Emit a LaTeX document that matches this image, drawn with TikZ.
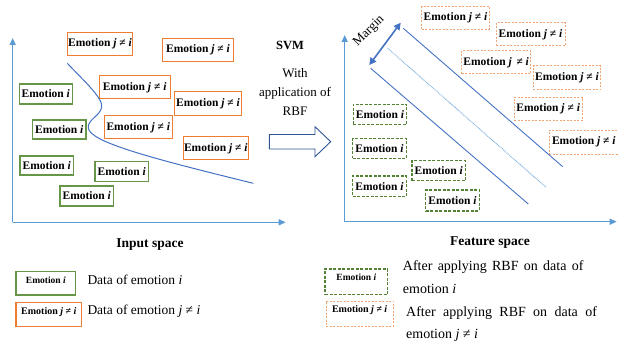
\documentclass[tikz,border=0pt]{standalone}
\usepackage{fontspec}
\setmainfont{Liberation Serif}
\usetikzlibrary{arrows.meta}
\definecolor{bxorange}{RGB}{237,125,49}
\definecolor{ltorange}{RGB}{243,165,115}
\definecolor{bxgreen}{RGB}{104,150,72}
\definecolor{dkgreen}{RGB}{84,130,53}
\definecolor{axblue}{RGB}{91,155,213}
\definecolor{lnblue}{RGB}{68,114,196}
\definecolor{dkblue}{RGB}{47,85,151}
\tikzset{
  bx/.style={draw, line width=1.1pt, inner sep=0pt, minimum height=23pt,
    font=\fontsize{11.5}{13}\selectfont\bfseries},
  obox/.style={bx, draw=bxorange},
  gbox/.style={bx, draw=bxgreen, minimum height=20pt, minimum width=53.4pt},
  odbox/.style={obox, draw=ltorange, line width=1pt, dash pattern=on 2pt off 1.5pt},
  gdbox/.style={gbox, draw=dkgreen, dash pattern=on 3pt off 1.5pt, line width=1.2pt},
  axis/.style={draw=axblue, line width=1.4pt, -{Triangle[length=7pt,width=6pt]}},
  lab/.style={font=\fontsize{13.5}{16}\selectfont, inner sep=0pt},
  hdr/.style={font=\fontsize{13.5}{16}\selectfont\bfseries, inner sep=0pt},
  small/.style={font=\fontsize{9.5}{11}\selectfont\bfseries, inner sep=0pt},
}
\begin{document}
\begin{tikzpicture}[x=1pt,y=-1pt]
\useasboundingbox (0,0) rectangle (618,345);
% ---------- left panel ----------
\coordinate (lo) at (12.7,222.3);
\coordinate (ly) at (12.7,38);
\coordinate (lx) at (285.7,222.3);
\draw[axis] (lo) -- (ly);
\draw[axis] (lo) -- (lx);

\node[obox, minimum width=65pt]   (o1) at (100,44.2)   {Emotion \textit{j} ≠ \textit{i}};
\node[obox, minimum width=70.6pt] (o2) at (198,50)     {Emotion \textit{j} ≠ \textit{i}};
\node[obox, minimum width=70.7pt] (o3) at (134.7,87.3) {Emotion \textit{j} ≠ \textit{i}};
\node[obox, minimum width=67.4pt, minimum height=24pt] (o4) at (208,103.7) {Emotion \textit{j} ≠ \textit{i}};
\node[obox, minimum width=68pt]   (o5) at (138.3,127.3) {Emotion \textit{j} ≠ \textit{i}};
\node[obox, minimum width=65pt]   (o6) at (215.8,148.3) {Emotion \textit{j} ≠ \textit{i}};

\node[gbox] (g1) at (45.8,94)    {Emotion \textit{i}};
\node[gbox, minimum height=19pt] (g2) at (59.3,129.5) {Emotion \textit{i}};
\node[gbox, minimum height=19pt] (g3) at (46.7,165.5) {Emotion \textit{i}};
\node[gbox] (g4) at (121.7,171.7) {Emotion \textit{i}};
\node[gbox] (g5) at (86.7,196)    {Emotion \textit{i}};

\coordinate (c0) at (67.3,63.3);
\coordinate (c1) at (101.7,107.3);
\coordinate (c2) at (88.3,128);
\coordinate (c3) at (253.3,183.3);
\draw[lnblue, line width=1pt] (c0) .. controls (85,82) and (103,98) .. (c1)
  .. controls (100,116) and (87,120) .. (c2)
  .. controls (90,142) and (150,158) .. (c3);

% ---------- middle ----------
\node[hdr, font=\fontsize{12.5}{15}\selectfont\bfseries] (svm) at (290,45) {SVM};
\node[lab, font=\fontsize{13}{19}\selectfont, align=center] (with) at (295,92.5) {With\\application of\\RBF};
\draw[dkblue, line width=0.9pt, fill=white]
  (269.3,134.5) -- (315,134.5) -- (315,126.7) -- (330.7,141.7) -- (315,156.7)
  -- (315,149) -- (269.3,149) -- cycle;

% ---------- right panel ----------
\coordinate (ro) at (344.7,221.7);
\coordinate (ry) at (344.7,35);
\coordinate (rx) at (616.7,221.7);
\draw[axis] (ro) -- (ry);
\draw[axis] (ro) -- (rx);

\node[odbox, minimum width=67.6pt, minimum height=22.6pt] (r1) at (455.5,18)    {Emotion \textit{j} ≠ \textit{i}};
\node[odbox, minimum width=69pt]   (r2) at (530.5,34.3)  {Emotion \textit{j} ≠ \textit{i}};
\node[odbox, minimum width=69pt]   (r3) at (496.2,62.3)  {Emotion \textit{j}\, ≠ \textit{i}};
\node[odbox, minimum width=67.4pt, minimum height=24.3pt] (r4) at (567,77.8) {Emotion \textit{j} ≠ \textit{i}};
\node[odbox, minimum width=68.3pt] (r5) at (548.2,109)   {Emotion \textit{j} ≠ \textit{i}};
\node[odbox, minimum width=69pt, minimum height=24.3pt] (r6) at (583.8,142.2) {Emotion \textit{j} ≠ \textit{i}};

\node[gdbox] (h1) at (380,114.2)   {Emotion \textit{i}};
\node[gdbox] (h2) at (379.5,148.3) {Emotion \textit{i}};
\node[gdbox] (h3) at (438.7,170.7) {Emotion \textit{i}};
\node[gdbox, minimum height=20.7pt] (h4) at (379.5,186.3) {Emotion \textit{i}};
\node[gdbox, minimum height=21pt] (h5) at (452.5,200.5)   {Emotion \textit{i}};

\coordinate (u1) at (403.3,28.3);
\coordinate (u2) at (562.7,166.7);
\coordinate (m1) at (387.7,48.3);
\coordinate (m2) at (546,187.3);
\coordinate (d1) at (370.7,68.3);
\coordinate (d2) at (528.3,204);
\draw[lnblue, line width=0.9pt] (u1) -- (u2);
\draw[axblue!80, line width=1pt, dash pattern=on 0.8pt off 0.8pt] (m1) -- (m2);
\draw[lnblue, line width=0.9pt] (d1) -- (d2);
\coordinate (a1) at (400.7,22.7);
\coordinate (a2) at (369.3,65);
\draw[lnblue, line width=1.6pt, {Triangle[length=7pt,width=7pt]}-{Triangle[length=7pt,width=7pt]}] (a2) -- (a1);
\node[lab, font=\fontsize{13}{15}\selectfont, rotate=45] (margin) at (369,31) {Margin};

% ---------- captions ----------
\node[hdr] (inp) at (150,245) {Input space};
\node[hdr] (feat) at (490,242.7) {Feature space};

% ---------- legends ----------
\node[draw=bxgreen, line width=1.1pt, minimum width=59.7pt, minimum height=23.3pt, inner sep=0pt] (lg) at (45.85,283.35) {};
\node[small] (lgt) at (45.85,280.7) {Emotion \textit{i}};
\node[lab, anchor=west] (lgd) at (87.3,280) {Data of emotion \textit{i}};

\node[draw=bxorange, line width=1.1pt, minimum width=65.7pt, minimum height=24pt, inner sep=0pt] (lo1) at (48.85,314.7) {};
\node[small, font=\fontsize{10}{11}\selectfont\bfseries] (lot) at (48.85,311.7) {Emotion \textit{j} ≠ \textit{i}};
\node[lab, anchor=west] (lod) at (87.3,311) {Data of emotion \textit{j} ≠ \textit{i}};

\node[draw=dkgreen, line width=1.2pt, dash pattern=on 3pt off 1.5pt, minimum width=62.7pt, minimum height=25.3pt, inner sep=0pt] (rg) at (356.35,281.65) {};
\node[small] (rgt) at (356.35,277.7) {Emotion \textit{i}};
\node[lab, font=\fontsize{14}{16}\selectfont, anchor=west] (rgd1) at (402.7,266.7) {\hbox to 180.6pt{After\hfill applying\hfill RBF\hfill on\hfill data\hfill of}};
\node[lab, font=\fontsize{14}{16}\selectfont, anchor=west] (rgd2) at (402.7,289.3) {emotion \textit{i}};

\node[draw=ltorange, line width=1pt, dash pattern=on 2pt off 1.5pt, minimum width=67.3pt, minimum height=25pt, inner sep=0pt] (ro1) at (359.65,313.5) {};
\node[small, font=\fontsize{10}{11}\selectfont\bfseries] (rot) at (359.65,310) {Emotion \textit{j} ≠ \textit{i}};
\node[lab, font=\fontsize{14}{16}\selectfont, anchor=west] (rod1) at (406,312.7) {\hbox to 190.7pt{After\hfill applying\hfill RBF\hfill on\hfill data\hfill of}};
\node[lab, font=\fontsize{14}{16}\selectfont, anchor=west] (rod2) at (406,335) {emotion \textit{j} ≠ \textit{i}};
\end{tikzpicture}
\end{document}
